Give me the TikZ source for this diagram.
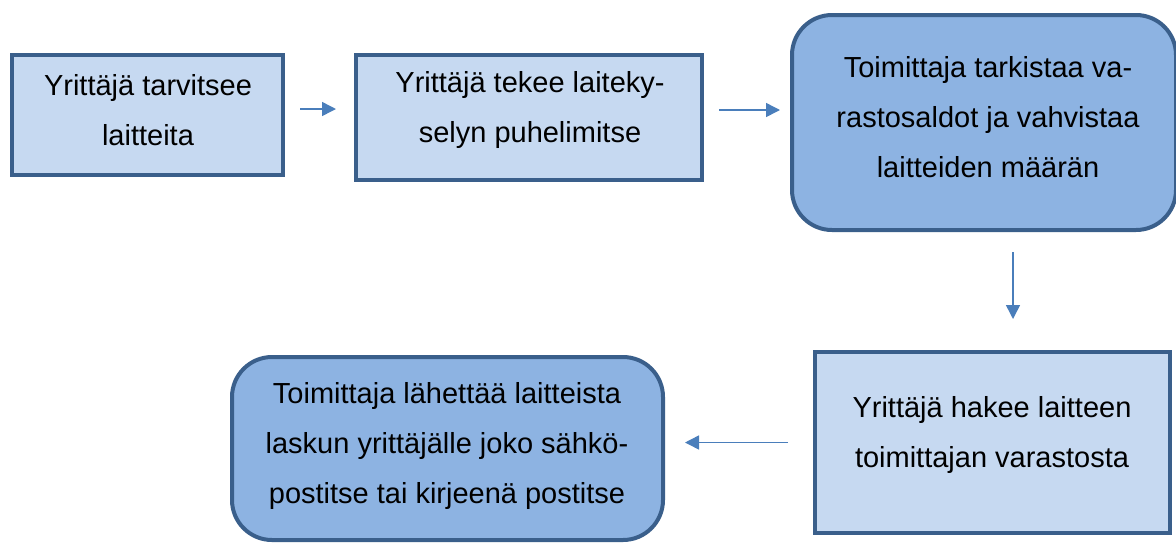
\documentclass[tikz,border=0pt]{standalone}
\usepackage{fontspec}
\setmainfont{Liberation Sans}
\usetikzlibrary{arrows.meta}
\definecolor{edge}{HTML}{3A5F8B}
\definecolor{paleblue}{HTML}{C6D9F1}
\definecolor{midblue}{HTML}{8DB3E2}
\definecolor{arrowblue}{HTML}{4A7EBB}
\tikzset{
  box/.style={draw=edge, line width=4pt, fill=paleblue, inner sep=0pt},
  roundbox/.style={box, fill=midblue, rounded corners=40pt},
  txt/.style={align=center, inner sep=0pt, font=\fontsize{29}{50}\selectfont},
  arr/.style={draw=arrowblue, line width=1.5pt, -{Triangle[length=14pt,width=14pt]}}
}
\begin{document}
\begin{tikzpicture}[x=1pt, y=-1pt]
\useasboundingbox (0,0) rectangle (1176,542);

% process boxes
\node[box, minimum width=271pt, minimum height=120pt] (b1) at (147.5,115) {};
\node[box, minimum width=346pt, minimum height=125pt] (b2) at (529,117) {};
\node[roundbox, minimum width=384pt, minimum height=215pt] (b3) at (984,122.5) {};
\node[box, minimum width=355pt, minimum height=181pt] (b4) at (992.5,442.5) {};
\node[roundbox, minimum width=431pt, minimum height=183pt] (b5) at (447.5,448.5) {};

% box texts
\node[txt] (t1) at (148,110) {Yrittäjä tarvitsee\\laitteita};
\node[txt] (t2) at (530,110) {Yrittäjä tekee laiteky-\\selyn puhelimitse};
\node[txt] (t3) at (988,117) {Toimittaja tarkistaa va-\\rastosaldot ja vahvistaa\\laitteiden määrän};
\node[txt] (t4) at (992,435) {Yrittäjä hakee laitteen\\toimittajan varastosta};
\node[txt] (t5) at (447,446) {Toimittaja lähettää laitteista\\laskun yrittäjälle joko sähkö-\\postitse tai kirjeenä postitse};

% connectors
\draw[arr, shorten <=15pt, shorten >=18pt] ([yshift=6pt]b1.east) -- ([yshift=6pt]b1.east -| b2.west);
\draw[arr, shorten <=15pt, shorten >=10pt] ([yshift=7pt]b2.east) -- ([yshift=7pt]b2.east -| b3.west);
\draw[arr, shorten <=20pt, shorten >=31pt] ([xshift=29pt]b3.south) -- ([xshift=29pt]b3.south |- b4.north);
\draw[arr, shorten <=25pt, shorten >=20pt] (b4.west) -- (b4.west -| b5.east);
\end{tikzpicture}
\end{document}
